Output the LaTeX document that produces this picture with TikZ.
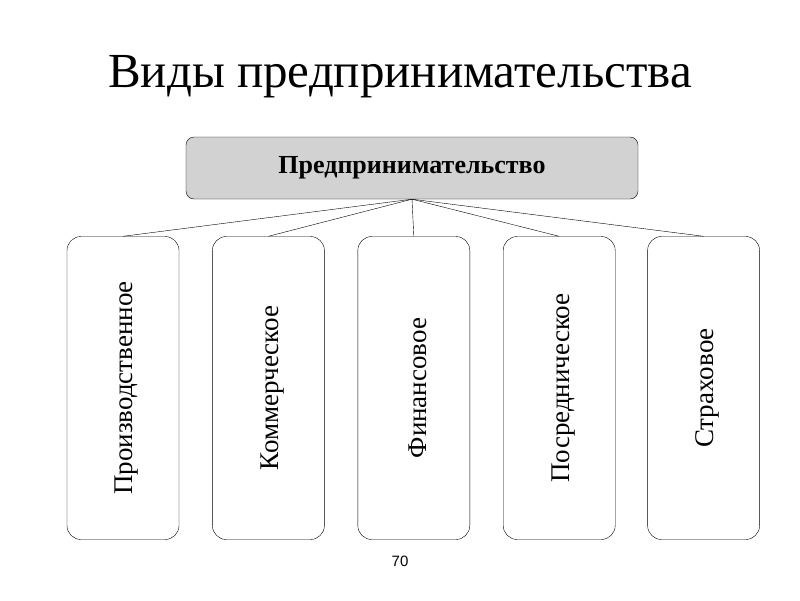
\documentclass[tikz,border=0pt]{standalone}
\usepackage{fontspec}
\setmainfont{Liberation Serif}
\setsansfont{Liberation Sans}
\usetikzlibrary{positioning}
\tikzset{
  kind/.style={draw, rounded corners=14pt, minimum width=112pt, minimum height=303pt, inner sep=0pt},
  kindtext/.style={rotate=90, xshift=0pt, yshift=-4pt, font=\fontsize{27}{30}\selectfont},
  link/.style={draw, thin},
}
\begin{document}
\begin{tikzpicture}[x=1pt,y=-1pt]
  \useasboundingbox (0,0) rectangle (800,600);
  % title
  \node (title) at (400,77) {\fontsize{49}{54}\selectfont Виды предпринимательства};
  % root
  \node[draw, rounded corners=8pt, fill=gray!35, minimum width=452pt, minimum height=62pt,
        font=\bfseries\fontsize{26}{28}\selectfont] (root) at (412,168) {Предпринимательство};
  % kinds
  \node[kind] (prod) at (123,388) {};
  \node[kind, right=33pt of prod] (comm) {};
  \node[kind, right=33pt of comm] (fin) {};
  \node[kind, right=33pt of fin] (mid) {};
  \node[kind, right=32pt of mid] (ins) {};
  \node[kindtext] at (prod) {Производственное};
  \node[kindtext] at (comm) {Коммерческое};
  \node[kindtext] at (fin) {Финансовое};
  \node[kindtext] at (mid) {Посредническое};
  \node[kindtext] at (ins) {Страховое};
  % links
  \foreach \k in {prod, comm, fin, mid, ins}
    \draw[link] (root.south) -- (\k.north);
  % page number
  \node[font=\sffamily\fontsize{15}{17}\selectfont] (page) at (400,561) {70};
\end{tikzpicture}
\end{document}
